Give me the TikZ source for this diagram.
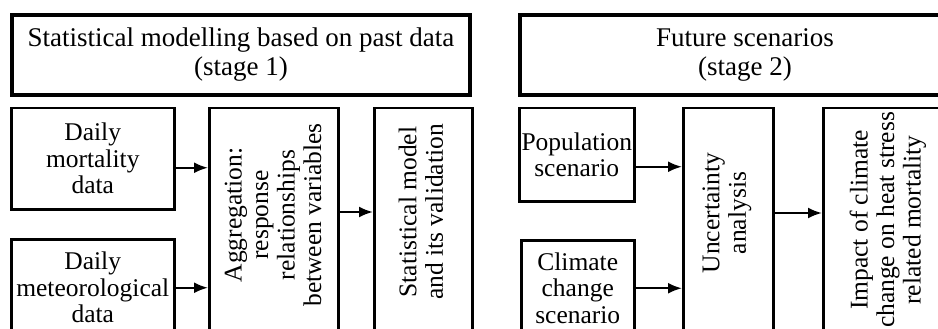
\documentclass[tikz,border=0pt]{standalone}
\usepackage{fontspec}
\usepackage{graphicx}
\setmainfont{Liberation Serif}
\usetikzlibrary{arrows.meta}
\usetikzlibrary{calc}

\tikzset{
  stagebox/.style={draw,line width=4pt,anchor=north west,inner sep=0pt,align=center,font=\fontsize{27}{29}\selectfont},
  databox/.style={draw,line width=2.5pt,anchor=north west,inner sep=0pt,align=center},
  vtext/.style={rotate=90,align=center,inner sep=0pt},
  arr/.style={-{Latex[length=14pt,width=11pt]},line width=2.3pt},
}

\begin{document}
\begin{tikzpicture}[x=1pt,y=-1pt,font=\fontsize{25.5}{26.5}\selectfont]
\useasboundingbox (0,0) rectangle (938,329);
\clip (0,0) rectangle (938,329);
% stage headers
\node[stagebox,minimum width=458pt,minimum height=80pt] (stone) at (10,13) {Statistical modelling based on past data\\(stage 1)};
\node[stagebox,minimum width=450pt,minimum height=80pt] (sttwo) at (518,13) {Future scenarios\\(stage 2)};
% stage 1
\node[databox,minimum width=163pt,minimum height=101pt] (mort) at (10,107) {Daily\\mortality\\data};
\node[databox,minimum width=163pt,minimum height=97pt] (met) at (10,238) {Daily\\meteorological\\data};
\node[databox,minimum width=129pt,minimum height=233pt] (agg) at (208,107) {};
\node[databox,minimum width=98pt,minimum height=233pt] (stat) at (373,107) {};
\node[vtext] (aggtxt) at (273,215) {Aggregation:\\response\\relationships\\between variables};
\node[vtext] (stattxt) at (421,212) {Statistical model\\and its validation};
% stage 2
\node[databox,minimum width=115pt,minimum height=93pt] (pop) at (518,107) {Population\\scenario};
\node[databox,minimum width=113pt,minimum height=96pt] (clim) at (520,239) {Climate\\change\\scenario};
\node[databox,minimum width=90pt,minimum height=233pt] (unc) at (682,107) {};
\node[databox,minimum width=140pt,minimum height=233pt] (imp) at (822,107) {};
\node[vtext] (unctxt) at (727,213) {Uncertainty\\analysis};
\node[vtext] (imptxt) at (888,220) {Impact of climate\\change on heat stress\\related mortality};
% arrows
\draw[arr] ([yshift=-9pt]mort.east) -- ([yshift=-9pt]mort.east -| agg.west);
\draw[arr] (met.east) -- (met.east -| agg.west);
\draw[arr] (agg.east |- stattxt) -- (stat.west |- stattxt);
\draw[arr] ([yshift=-12pt]pop.east) -- ([yshift=-12pt]pop.east -| unc.west);
\draw[arr] (clim.east) -- (clim.east -| unc.west);
\draw[arr] (unc.east |- unctxt) -- (imp.west |- unctxt);
\end{tikzpicture}
\end{document}
